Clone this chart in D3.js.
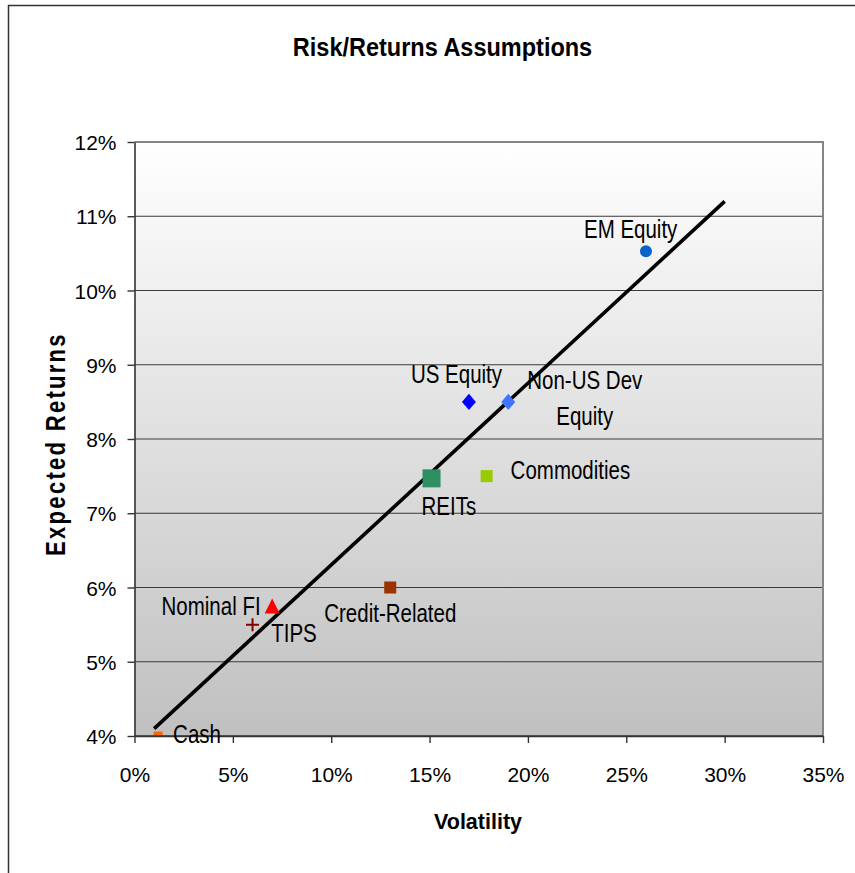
<!DOCTYPE html>
<html>
<head>
<meta charset="utf-8">
<script src="https://cdn.jsdelivr.net/npm/d3@7/dist/d3.min.js"></script>
<style>
  html, body { margin: 0; padding: 0; background: #fff; }
  svg { display: block; font-family: "Liberation Sans", Arial, sans-serif; }
</style>
</head>
<body>
<svg id="chart" width="855" height="873"></svg>
<script>
// Asset classes with assumed volatility (%) and expected return (%)
const assets      = ["EM Equity", "US Equity", "Non-US Dev Equity", "REITs", "Commodities",
                     "Credit-Related", "TIPS", "Nominal FI", "Cash"];
const volatility  = [26, 17, 19, 15.1, 17.9, 13, 7, 6, 1.2];
const expReturn   = [10.53, 8.5, 8.5, 7.47, 7.5, 6.0, 5.75, 5.5, 4.0];

// Fitted risk/return line endpoints
const trendVol    = [1, 30];
const trendRet    = [4.1, 11.2];

// Axis ticks
const xTicks = [0, 5, 10, 15, 20, 25, 30, 35];
const yTicks = [4, 5, 6, 7, 8, 9, 10, 11, 12];

// Marker appearance per asset
const markerStyle = [
  { shape: "circle",   color: "#0a62cc", size: 12 },
  { shape: "diamond",  color: "#0000ff", size: 14 },
  { shape: "diamond",  color: "#3f74ff", size: 14 },
  { shape: "square",   color: "#2e9062", size: 18 },
  { shape: "square",   color: "#99cc00", size: 12 },
  { shape: "square",   color: "#993300", size: 12 },
  { shape: "triangle", color: "#ff0000", size: 15 },
  { shape: "plus",     color: "#800000", size: 13 },
  { shape: "square",   color: "#ff6600", size: 9 }
];

// Label placement relative to each marker (baseline-left, px)
const labelLayout = [
  { lines: ["EM Equity"], dx: -62, dy: -13 },
  { lines: ["US Equity"], dx: -58, dy: -19 },
  { lines: ["Non-US Dev", "Equity"], dx: 19, dy: -13, dx2: 48, dy2: 23 },
  { lines: ["REITs"], dx: -10, dy: 37 },
  { lines: ["Commodities"], dx: 24, dy: 3 },
  { lines: ["Credit-Related"], dx: -66, dy: 34 },
  { lines: ["TIPS"], dx: -1, dy: 36 },
  { lines: ["Nominal FI"], dx: -91, dy: -10 },
  { lines: ["Cash"], dx: 15, dy: 7 }
];

const svg = d3.select("#chart");
const plot = { left: 134.5, right: 823, top: 142, bottom: 736 };

const x = d3.scaleLinear().domain([0, 35]).range([plot.left, plot.right]);
const y = d3.scaleLinear().domain([4, 12]).range([plot.bottom, plot.top]);

// Outer frame
svg.append("path")
  .attr("d", "M8.5,873 L8.5,5.5 L855,5.5")
  .attr("fill", "none").attr("stroke", "#333").attr("stroke-width", 1.5);

// Plot background gradient
const defs = svg.append("defs");
const grad = defs.append("linearGradient").attr("id", "bg")
  .attr("x1", 0).attr("y1", 0).attr("x2", 0).attr("y2", 1);
grad.append("stop").attr("offset", "0%").attr("stop-color", "#ffffff");
grad.append("stop").attr("offset", "100%").attr("stop-color", "#c0c0c0");

defs.append("clipPath").attr("id", "plotClip")
  .append("rect")
  .attr("x", plot.left).attr("y", plot.top)
  .attr("width", plot.right - plot.left).attr("height", plot.bottom - plot.top);

svg.append("rect")
  .attr("x", plot.left).attr("y", plot.top)
  .attr("width", plot.right - plot.left).attr("height", plot.bottom - plot.top)
  .attr("fill", "url(#bg)");

// Horizontal gridlines
svg.append("g").selectAll("line")
  .data(yTicks.filter(d => d > 4 && d < 12))
  .join("line")
  .attr("x1", plot.left).attr("x2", plot.right)
  .attr("y1", d => y(d)).attr("y2", d => y(d))
  .attr("stroke", "#3a3a3a").attr("stroke-width", 1);

// Top and right plot border
svg.append("path")
  .attr("d", `M${plot.left},${y(12)} L${plot.right},${y(12)} L${plot.right},${plot.bottom}`)
  .attr("fill", "none").attr("stroke", "#858585").attr("stroke-width", 2);

const pct = d => d + "%";

// Y axis
const yAxis = svg.append("g")
  .attr("transform", `translate(${plot.left},0)`)
  .call(d3.axisLeft(y).tickValues(yTicks).tickFormat(pct)
        .tickSizeInner(7).tickSizeOuter(0).tickPadding(11));
// X axis
const xAxis = svg.append("g")
  .attr("transform", `translate(0,${plot.bottom})`)
  .call(d3.axisBottom(x).tickValues(xTicks).tickFormat(pct)
        .tickSizeInner(7).tickSizeOuter(0));

[yAxis, xAxis].forEach(g => {
  g.select(".domain").attr("stroke", "#333").attr("stroke-width", 1.6);
  g.selectAll(".tick line").attr("stroke", "#333").attr("stroke-width", 1.4);
  g.selectAll(".tick text").attr("fill", "#000")
    .style("font-size", "21px").style("font-family", "'Liberation Sans', Arial, sans-serif");
});
xAxis.selectAll(".tick text").attr("y", 46).attr("dy", 0);
yAxis.selectAll(".tick text").attr("dy", "0.36em");

// Trend line and markers (clipped to plot area)
const inner = svg.append("g").attr("clip-path", "url(#plotClip)");

inner.append("line")
  .attr("x1", x(trendVol[0])).attr("y1", y(trendRet[0]))
  .attr("x2", x(trendVol[1])).attr("y2", y(trendRet[1]))
  .attr("stroke", "#000").attr("stroke-width", 3.6);

function markerPath(shape, s) {
  const h = s / 2;
  switch (shape) {
    case "diamond":  return `M0,${-h * 1.15} L${h},0 L0,${h * 1.15} L${-h},0 Z`;
    case "square":   return `M${-h},${-h} H${h} V${h} H${-h} Z`;
    case "triangle": return `M0,${-h} L${h},${h} L${-h},${h} Z`;
    case "plus":     return `M${-h},0 H${h} M0,${-h} V${h}`;
  }
  return "";
}

assets.forEach((name, i) => {
  const st = markerStyle[i];
  const cx = x(volatility[i]), cy = y(expReturn[i]);
  if (st.shape === "circle") {
    inner.append("circle").attr("cx", cx).attr("cy", cy).attr("r", st.size / 2)
      .attr("fill", st.color);
  } else if (st.shape === "plus") {
    inner.append("path").attr("d", markerPath("plus", st.size))
      .attr("transform", `translate(${cx},${cy})`)
      .attr("fill", "none").attr("stroke", st.color).attr("stroke-width", 2);
  } else {
    inner.append("path").attr("d", markerPath(st.shape, st.size))
      .attr("transform", `translate(${cx},${cy})`)
      .attr("fill", st.color);
  }
});

// Re-draw the bottom axis line over the clipped markers
svg.append("line")
  .attr("x1", plot.left).attr("x2", plot.right)
  .attr("y1", plot.bottom).attr("y2", plot.bottom)
  .attr("stroke", "#333").attr("stroke-width", 1.6);

// Point labels
const labelFont = 20.5, stretch = 1.22;
function stretchedText(g, str, tx, ty, opts = {}) {
  g.append("text")
    .attr("transform", `translate(${tx},${ty}) scale(1,${opts.sy || stretch})`)
    .attr("text-anchor", opts.anchor || "start")
    .style("font-size", (opts.size || labelFont) + "px")
    .style("font-weight", opts.weight || "normal")
    .attr("fill", "#000")
    .text(str);
}
const labels = svg.append("g");
assets.forEach((name, i) => {
  const L = labelLayout[i];
  const cx = x(volatility[i]), cy = y(expReturn[i]);
  stretchedText(labels, L.lines[0], cx + L.dx, cy + L.dy);
  if (L.lines[1]) stretchedText(labels, L.lines[1], cx + L.dx2, cy + L.dy2);
});

// Title and axis titles
stretchedText(svg, "Risk/Returns Assumptions", 442.5, 56,
  { anchor: "middle", size: 23.5, weight: "bold", sy: 1.13 });
stretchedText(svg, "Volatility", 478, 829,
  { anchor: "middle", size: 21.5, weight: "bold", sy: 1.0 });
svg.append("text")
  .attr("transform", "translate(65,444) rotate(-90) scale(1,1.25)")
  .attr("text-anchor", "middle")
  .style("font-size", "22px").style("font-weight", "bold")
  .style("letter-spacing", "2.3px")
  .attr("fill", "#000")
  .text("Expected Returns");
</script>
</body>
</html>
